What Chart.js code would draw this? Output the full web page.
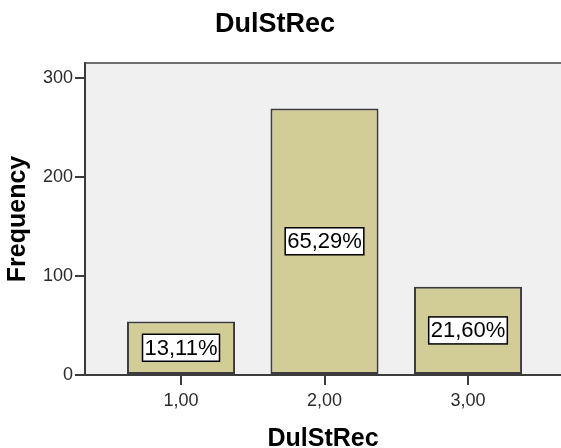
<!DOCTYPE html>
<html lang="en">
<head>
    <meta charset="UTF-8">
    <title>DulStRec</title>
    <script src="https://cdn.jsdelivr.net/npm/chart.js"></script>
    <style>
        body {
            margin: 0;
            background: #ffffff;
        }
        #chartBox {
            width: 561px;
            height: 448px;
        }
    </style>
</head>
<body>
    <div id="chartBox">
        <canvas id="myChart"></canvas>
    </div>

    <script>
        const chartTitle = 'DulStRec';
        const categoryCodes = [1, 2, 3];
        const tickLabels = ['1,00', '2,00', '3,00'];
        const frequencies = [54, 269, 89];
        const yTickValues = [0, 100, 200, 300];

        const total = frequencies.reduce((a, b) => a + b, 0);

        // grey plot background and the thin frame line on top
        const plotBackground = {
            id: 'plotBackground',
            beforeDraw(chart) {
                const { ctx, chartArea } = chart;
                ctx.save();
                ctx.fillStyle = '#f0f0f0';
                ctx.fillRect(chartArea.left, chartArea.top, chartArea.right - chartArea.left, chartArea.bottom - chartArea.top);
                ctx.strokeStyle = '#6e6e6e';
                ctx.lineWidth = 2;
                ctx.beginPath();
                ctx.moveTo(chartArea.left, chartArea.top);
                ctx.lineTo(chartArea.right, chartArea.top);
                ctx.stroke();
                ctx.restore();
            }
        };

        const titleText = {
            id: 'titleText',
            afterDraw(chart) {
                const ctx = chart.ctx;
                ctx.save();
                ctx.font = 'bold 27px "Liberation Sans", Arial, sans-serif';
                ctx.fillStyle = '#000000';
                ctx.textAlign = 'center';
                ctx.textBaseline = 'middle';
                ctx.fillText(chartTitle, 275, 25);
                ctx.restore();
            }
        };

        // percentage boxes in the middle of each bar
        const percentLabels = {
            id: 'percentLabels',
            afterDatasetsDraw(chart) {
                const ctx = chart.ctx;
                const meta = chart.getDatasetMeta(0);
                ctx.save();
                ctx.font = '22px "Liberation Sans", Arial, sans-serif';
                ctx.textAlign = 'center';
                ctx.textBaseline = 'middle';
                meta.data.forEach((bar, i) => {
                    const text = (frequencies[i] / total * 100).toFixed(2).replace('.', ',') + '%';
                    const w = ctx.measureText(text).width + 4;
                    const h = 27;
                    const cy = (bar.y + bar.base) / 2;
                    ctx.fillStyle = '#ffffff';
                    ctx.fillRect(bar.x - w / 2, cy - h / 2, w, h);
                    ctx.strokeStyle = '#000000';
                    ctx.lineWidth = 1.5;
                    ctx.strokeRect(bar.x - w / 2, cy - h / 2, w, h);
                    ctx.fillStyle = '#000000';
                    ctx.fillText(text, bar.x, cy + 1);
                });
                ctx.restore();
            }
        };

        const ctx = document.getElementById('myChart').getContext('2d');
        const myChart = new Chart(ctx, {
            type: 'bar',
            data: {
                datasets: [{
                    label: 'Frequency',
                    data: categoryCodes.map((c, i) => ({ x: c, y: frequencies[i] })),
                    backgroundColor: '#d2cd96',
                    borderColor: '#3c3c3c',
                    borderWidth: 2,
                    borderSkipped: false,
                    barPercentage: 0.753,
                    categoryPercentage: 1
                }]
            },
            options: {
                responsive: true,
                maintainAspectRatio: false,
                animation: false,
                layout: {
                    padding: { top: 63, left: 0, right: 0, bottom: 0 }
                },
                plugins: {
                    legend: { display: false },
                    title: { display: false },
                    tooltip: { enabled: false }
                },
                scales: {
                    x: {
                        type: 'linear',
                        offset: false,
                        min: 0.331,
                        max: 3.648,
                        afterBuildTicks: scale => {
                            scale.ticks = categoryCodes.map(v => ({ value: v }));
                        },
                        afterFit: scale => { scale.height = 73; },
                        grid: {
                            offset: false,
                            drawOnChartArea: false,
                            drawTicks: true,
                            tickLength: 10,
                            color: '#3c3c3c',
                            lineWidth: 2
                        },
                        border: { color: '#3c3c3c', width: 2 },
                        ticks: {
                            padding: 5,
                            color: '#2b2b2b',
                            font: { family: '"Liberation Sans", Arial, sans-serif', size: 18 },
                            callback: (value, index) => tickLabels[index]
                        },
                        title: {
                            display: true,
                            text: chartTitle,
                            color: '#000000',
                            font: { family: '"Liberation Sans", Arial, sans-serif', size: 25, weight: 'bold', lineHeight: 0.72 },
                            padding: 0
                        }
                    },
                    y: {
                        min: 0,
                        max: 315,
                        afterBuildTicks: scale => {
                            scale.ticks = yTickValues.map(v => ({ value: v }));
                        },
                        afterFit: scale => { scale.width = 85; },
                        grid: {
                            drawOnChartArea: false,
                            drawTicks: true,
                            tickLength: 10,
                            color: '#3c3c3c',
                            lineWidth: 2
                        },
                        border: { color: '#3c3c3c', width: 2 },
                        ticks: {
                            padding: 2,
                            color: '#2b2b2b',
                            font: { family: '"Liberation Sans", Arial, sans-serif', size: 18 }
                        },
                        title: {
                            display: true,
                            text: 'Frequency',
                            color: '#000000',
                            font: { family: '"Liberation Sans", Arial, sans-serif', size: 25, weight: 'bold', lineHeight: 1.2 },
                            padding: { top: 3, bottom: 0 }
                        }
                    }
                }
            },
            plugins: [plotBackground, percentLabels, titleText]
        });
    </script>
</body>
</html>
